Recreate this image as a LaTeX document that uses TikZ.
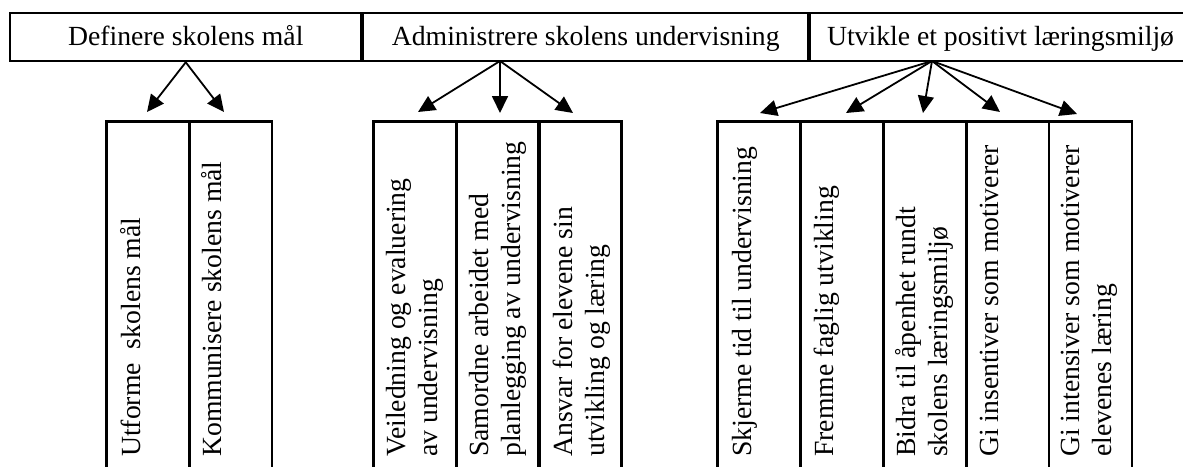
\documentclass[tikz,border=0pt]{standalone}
\usepackage{fontspec}
\setmainfont{Liberation Serif}
\usetikzlibrary{arrows.meta}
\begin{document}
\begin{tikzpicture}[x=1pt,y=1pt,
  topbox/.style={draw,line width=2.5pt,rectangle,inner sep=0pt,minimum height=48pt,
    text height=20pt,text depth=2.6pt},
  colbox/.style={draw,line width=2.5pt,rectangle,inner sep=0pt,minimum width=83pt,minimum height=360pt,anchor=north west},
  coltext/.style={rotate=90,anchor=base west,inner sep=0pt,align=left},
  arr/.style={line width=1.8pt,-{Triangle[length=17pt,width=16pt]}}]
\useasboundingbox (0,0) rectangle (1183,-466);
\fill[white] (0,0) rectangle (1183,-466);
\fontsize{27.7}{32}\selectfont
% top boxes
\node[topbox,minimum width=351.5pt] (t1) at (185.75,-37) {Definere skolens mål};
\node[topbox,minimum width=445.5pt] (t2) at (585.75,-37) {Administrere skolens undervisning};
\node[topbox,minimum width=381pt] (t3) at (1000.5,-37) {Utvikle et positivt læringsmiljø};
% columns
\node[colbox] (c1) at (105,-120) {};
\node[colbox] (c2) at (187.5,-120) {};
\node[colbox] (c3) at (372,-120) {};
\node[colbox] (c4) at (455,-120) {};
\node[colbox] (c5) at (537,-120) {};
\node[colbox] (c6) at (716,-120) {};
\node[colbox] (c7) at (799,-120) {};
\node[colbox] (c8) at (882,-120) {};
\node[colbox] (c9) at (964.5,-120) {};
\node[colbox] (c10) at (1047.5,-120) {};
% column texts (base anchor = baseline of the last line)
\node[coltext] (l1) at (140,-457) {Utforme\ \ skolens mål};
\node[coltext] (l2) at (221,-457) {Kommunisere skolens mål};
\node[coltext] (l3) at (437,-457) {Veiledning og evaluering\\av undervisning};
\node[coltext] (l4) at (520,-457) {Samordne arbeidet med\\planlegging av undervisning};
\node[coltext] (l5) at (604,-457) {Ansvar for elevene sin\\utvikling og læring};
\node[coltext] (l6) at (751,-457) {Skjerme tid til undervisning};
\node[coltext] (l7) at (833,-457) {Fremme faglig utvikling};
\node[coltext] (l8) at (947,-457) {Bidra til åpenhet rundt\\skolens læringsmiljø};
\node[coltext] (l9) at (998,-457) {Gi insentiver som motiverer};
\node[coltext] (l10) at (1111,-457) {Gi intensiver som motiverer\\elevenes læring};
% arrow origins and tips
\coordinate (o2) at (500,-61);
\coordinate (o3) at (932,-61);
\coordinate (a1) at (147,-112);
\coordinate (a2) at (224,-112);
\coordinate (a3) at (418,-112);
\coordinate (a4) at (500,-113);
\coordinate (a5) at (573,-113);
\coordinate (a6) at (760,-113);
\coordinate (a7) at (846,-113);
\coordinate (a8) at (923,-113);
\coordinate (a9) at (1000,-112);
\coordinate (a10) at (1077,-114);
\draw[arr] (t1.south) -- (a1);
\draw[arr] (t1.south) -- (a2);
\draw[arr] (o2) -- (a3);
\draw[arr] (o2) -- (a4);
\draw[arr] (o2) -- (a5);
\draw[arr] (o3) -- (a6);
\draw[arr] (o3) -- (a7);
\draw[arr] (o3) -- (a8);
\draw[arr] (o3) -- (a9);
\draw[arr] (o3) -- (a10);
\end{tikzpicture}
\end{document}
